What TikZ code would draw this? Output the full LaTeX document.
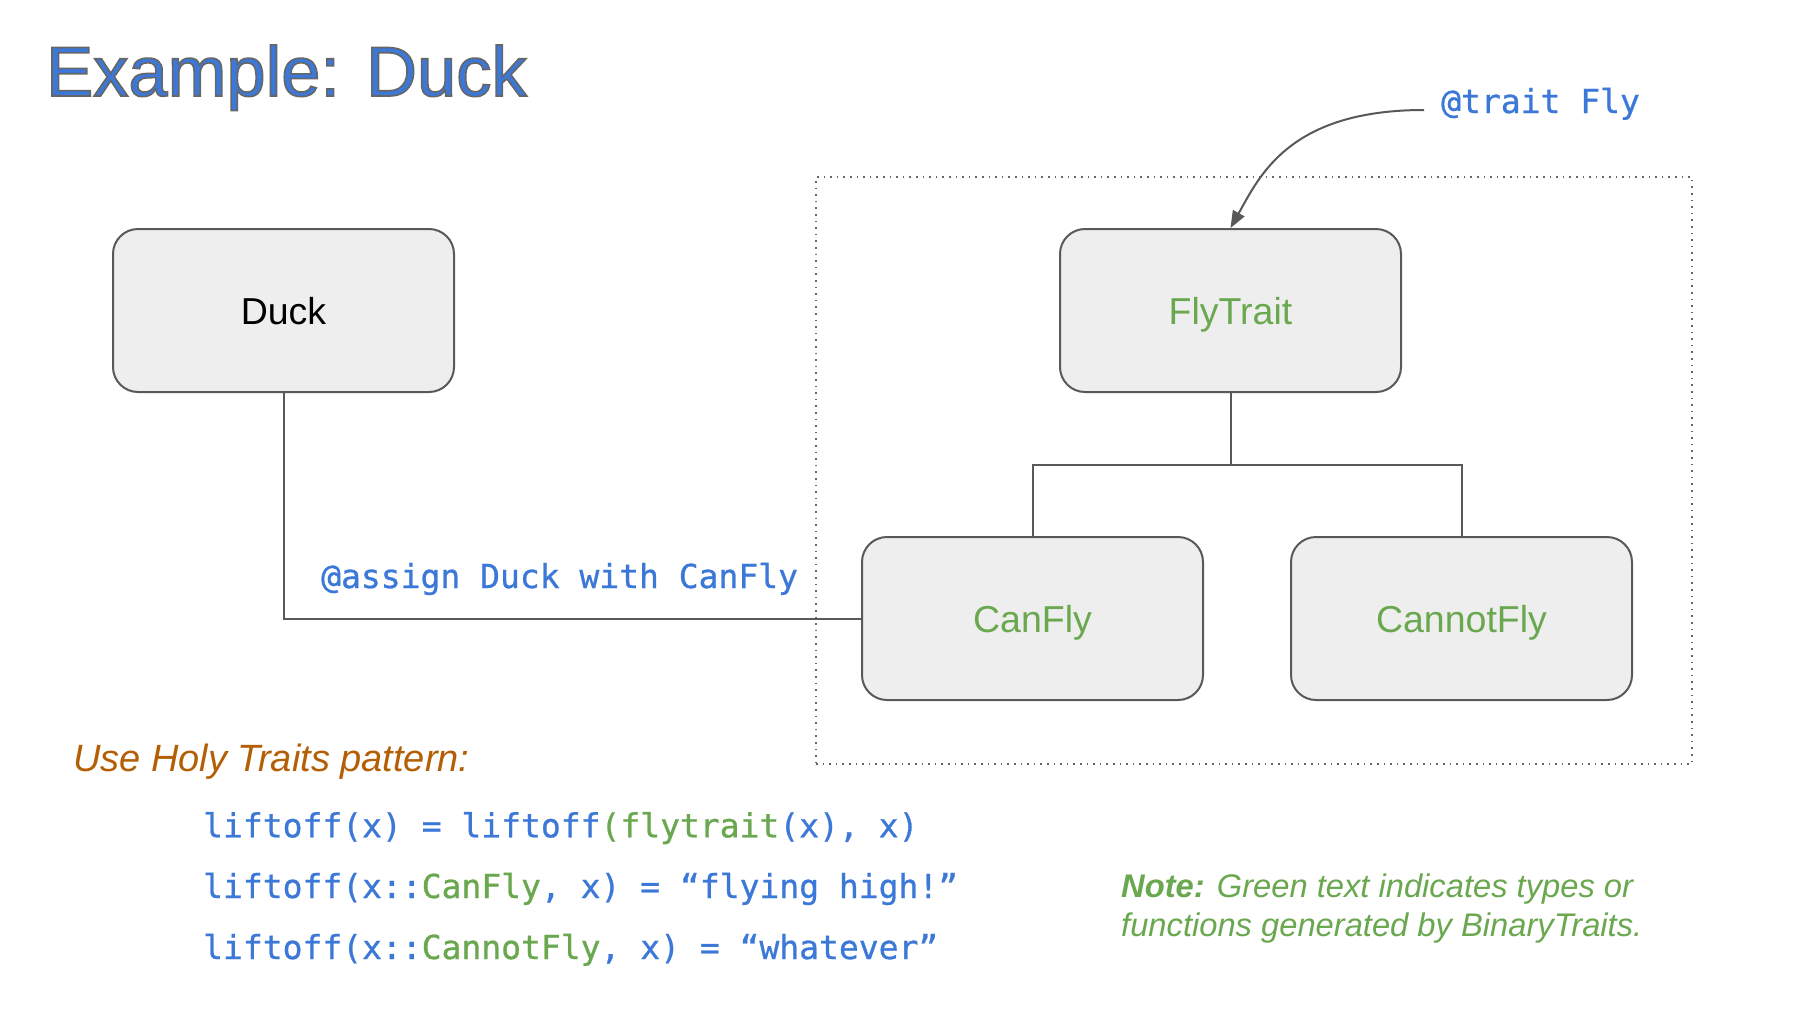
\documentclass[tikz,border=0pt]{standalone}
\usepackage{fontspec}
\setmainfont{Liberation Sans}
\newfontfamily\codefont[FakeBold=0.8]{DejaVu Sans Mono}
\usetikzlibrary{arrows.meta}
\definecolor{tblue}{HTML}{3C78D8}
\definecolor{tgreen}{HTML}{6AA84F}
\definecolor{torange}{HTML}{B45F06}
\definecolor{boxfill}{HTML}{EEEEEE}
\definecolor{linegray}{HTML}{595959}
\definecolor{dotgray}{HTML}{666666}
\newcommand\outlinedtext[1]{\special{pdf:literal direct 2 Tr 1.6 w 0.4 0.4 0.4 RG}#1\special{pdf:literal direct 0 Tr}}
\begin{document}
\begin{tikzpicture}[x=1pt,y=-1pt,
  box/.style={draw=linegray, line width=2pt, fill=boxfill, rounded corners=25pt,
    minimum width=341pt, minimum height=163pt, inner sep=0pt,
    font=\fontsize{37.5}{45}\selectfont, text height=27pt, text depth=0pt},
  conn/.style={draw=linegray, line width=2pt},
  groupbox/.style={draw=dotgray, line width=1.6pt, dash pattern=on 1.6pt off 5pt,
    minimum width=876pt, minimum height=587pt, inner sep=0pt},
  codelbl/.style={inner sep=0pt, text=tblue, font=\codefont\fontsize{33}{40}\selectfont},
  codeline/.style={codelbl, anchor=base west}
]
\useasboundingbox[fill=white] (0,0) rectangle (1812,1020);

% dotted group frame
\node[groupbox] (group) at (1254,470.5) {};

% boxes
\node[box] (duck) at (283.5,310.5) {Duck};
\node[box, text=tgreen] (flytrait) at (1230.5,310.5) {FlyTrait};
\node[box, text=tgreen] (canfly) at (1032.5,618.5) {CanFly};
\node[box, text=tgreen] (cannotfly) at (1461.5,618.5) {CannotFly};

% connectors
\draw[conn] (duck.south) |- (canfly.west);
\coordinate (split) at (1230.5,464.5);
\draw[conn] (flytrait.south) -- (split);
\draw[conn] (canfly.north) |- (split) -| (cannotfly.north);

% labels
\node[codeline] (assignlbl) at (321,588) {@assign Duck with CanFly};
\node[codeline] (traitlbl) at (1441,113) {@trait Fly};
\coordinate (arrstart) at (1424,110);
\draw[conn, -{Triangle[length=17pt,width=13pt]}] (arrstart) .. controls (1290,110) and (1260,175) .. (flytrait.north);

% Holy traits text
\node[anchor=base west, inner sep=0pt, text=torange, font=\fontsize{38}{46}\selectfont\itshape] (holy) at (73,771.7) {Use Holy Traits pattern:};

\node[codeline] (code1) at (203,837.3) {liftoff(x) = liftoff\textcolor{tgreen}{(flytrait}(x), x)};
\node[codeline] (code2) at (203,898) {liftoff(x::\textcolor{tgreen}{CanFly}, x) = “flying high!”};
\node[codeline] (code3) at (203,959) {liftoff(x::\textcolor{tgreen}{CannotFly}, x) = “whatever”};

% note
\node[anchor=base west, inner sep=0pt, align=left, text=tgreen, font=\fontsize{32.7}{39}\selectfont\itshape] (note) at (1121,936) {\textbf{Note:} Green text indicates types or\\functions generated by BinaryTraits.};

% title
\node[anchor=base west, inner sep=0pt, text=tblue, font=\fontsize{70.5}{80}\selectfont] (title) at (46,96) {\outlinedtext{Example: Duck}};
\end{tikzpicture}
\end{document}
